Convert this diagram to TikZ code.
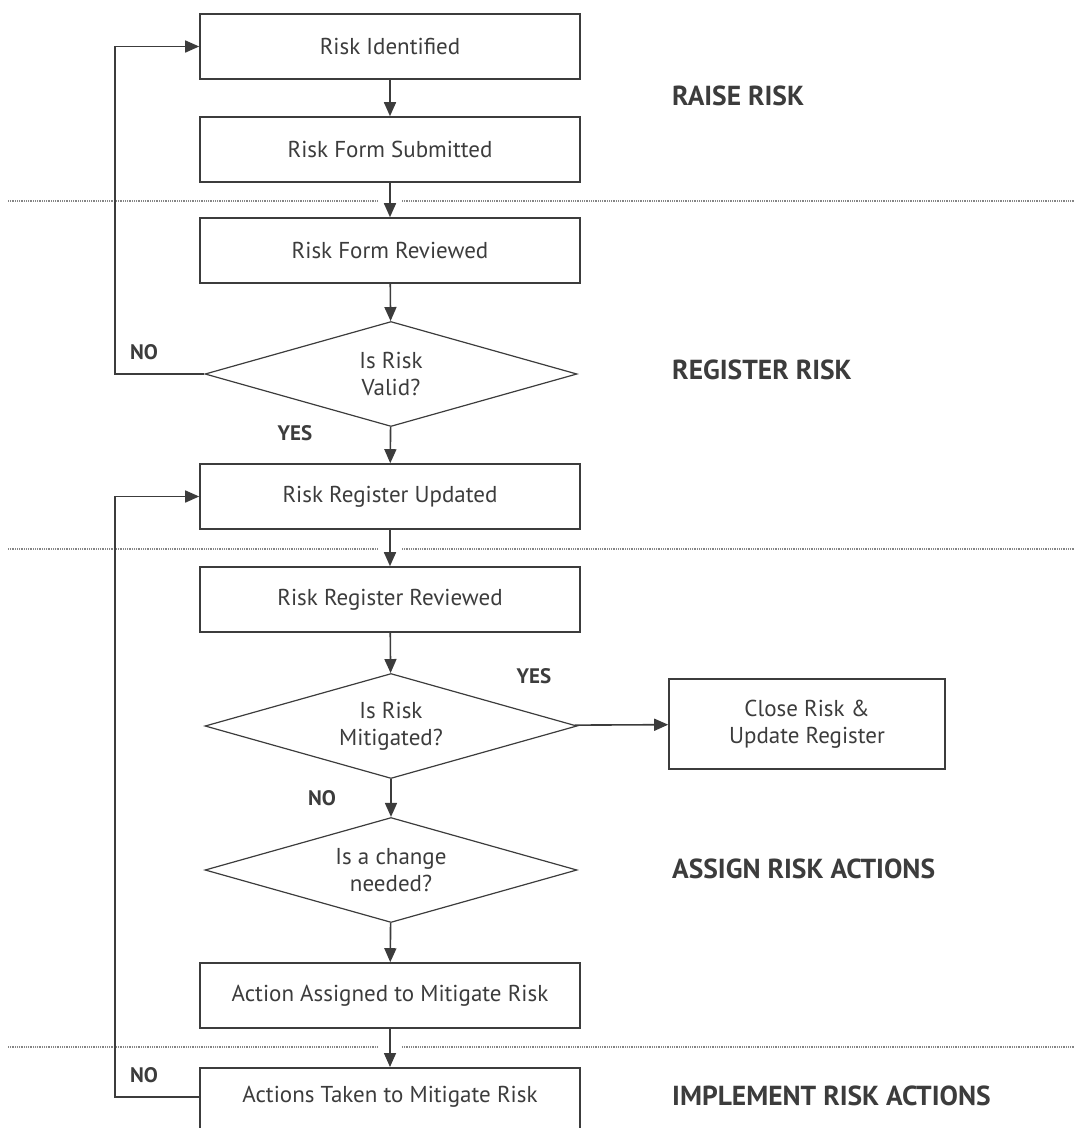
\documentclass[tikz,border=0pt]{standalone}
\usepackage{fontspec}
\setmainfont{PT Sans}
\usetikzlibrary{shapes.geometric,arrows.meta}

\definecolor{ink}{HTML}{3C3C3C}
\definecolor{rule}{HTML}{858585}

\tikzset{
  bodytext/.style={font=\fontsize{23}{27}\selectfont, text=ink},
  stepbox/.style={draw=ink, line width=1.6pt, rectangle, minimum width=380pt,
    minimum height=65pt, inner sep=0pt, bodytext, align=center},
  decision/.style={draw=ink, line width=1.2pt, diamond, aspect=3.5, inner sep=0pt,
    minimum width=372pt, minimum height=105pt, bodytext, align=center},
  flow/.style={draw=ink, line width=1.6pt, -{Triangle[length=14pt,width=12pt]}},
  phase/.style={anchor=west, inner sep=0pt, font=\bfseries\fontsize{27.5}{30}\selectfont, text=ink},
  answer/.style={font=\bfseries\fontsize{21}{24}\selectfont, text=ink},
  divider/.style={draw=rule, line width=1.6pt, dash pattern=on 1pt off 0.8pt},
}

\begin{document}
\begin{tikzpicture}[x=1pt,y=-1pt]
\useasboundingbox (0,0) rectangle (1075,1128);

% phase separators
\draw[divider] (8,201) -- (378,201);
\draw[divider] (402,201) -- (1075,201);
\draw[divider] (8,549) -- (378,549);
\draw[divider] (402,549) -- (1075,549);
\draw[divider] (8,1047) -- (378,1047);
\draw[divider] (402,1047) -- (1075,1047);

% process steps
\node[stepbox] (ident)   at (390,46.5)  {Risk Identified};
\node[stepbox] (submit)  at (390,149.5) {Risk Form Submitted};
\node[stepbox] (review)  at (390,250.5) {Risk Form Reviewed};
\node[decision] (valid)  at (391,374)   {Is Risk\\Valid?};
\node[stepbox] (regupd)  at (390,496.5) {Risk Register Updated};
\node[stepbox] (regrev)  at (390,599.5) {Risk Register Reviewed};
\node[decision] (mitig)  at (391,726)   {Is Risk\\Mitigated?};
\node[stepbox, minimum width=276pt, minimum height=90pt] (close) at (807,724)
  {Close Risk \&\\Update Register};
\node[decision] (change) at (391,870)   {Is a change\\needed?};
\node[stepbox] (assign)  at (390,995.5) {Action Assigned to Mitigate Risk};
\node[stepbox, minimum height=70pt, anchor=north] (taken) at (390,1067) {};
\node[bodytext] (takentxt) at (390,1097) {Actions Taken to Mitigate Risk};

% main flow
\draw[flow] (ident) -- (submit);
\draw[flow] (submit) -- (review);
\draw[flow] (review) -- (valid);
\draw[flow] (valid) -- (regupd);
\draw[flow] (regupd) -- (regrev);
\draw[flow] (regrev) -- (mitig);
\draw[flow] (mitig) -- (close);
\draw[flow] (mitig) -- (change);
\draw[flow] (change) -- (assign);
\draw[flow] (assign) -- (taken);

% loop-backs
\coordinate (loopA) at (115,374);
\coordinate (loopB) at (115,1097);
\draw[flow] (valid.west) -- (loopA) |- (ident.west);
\draw[flow] (taken.west |- loopB) -- (loopB) |- (regupd.west);

% answers
\node[answer] (noA)  at (144,352)  {NO};
\node[answer] (yesA) at (295,433)  {YES};
\node[answer] (yesB) at (534,676)  {YES};
\node[answer] (noB)  at (322,798)  {NO};
\node[answer] (noC)  at (144,1075) {NO};

% phases
\node[phase] (raise)  at (672,96)   {RAISE RISK};
\node[phase] (regist) at (672,370)  {REGISTER RISK};
\node[phase] (assig)  at (672,869)  {ASSIGN RISK ACTIONS};
\node[phase] (impl)   at (672,1096) {IMPLEMENT RISK ACTIONS};
\end{tikzpicture}
\end{document}
